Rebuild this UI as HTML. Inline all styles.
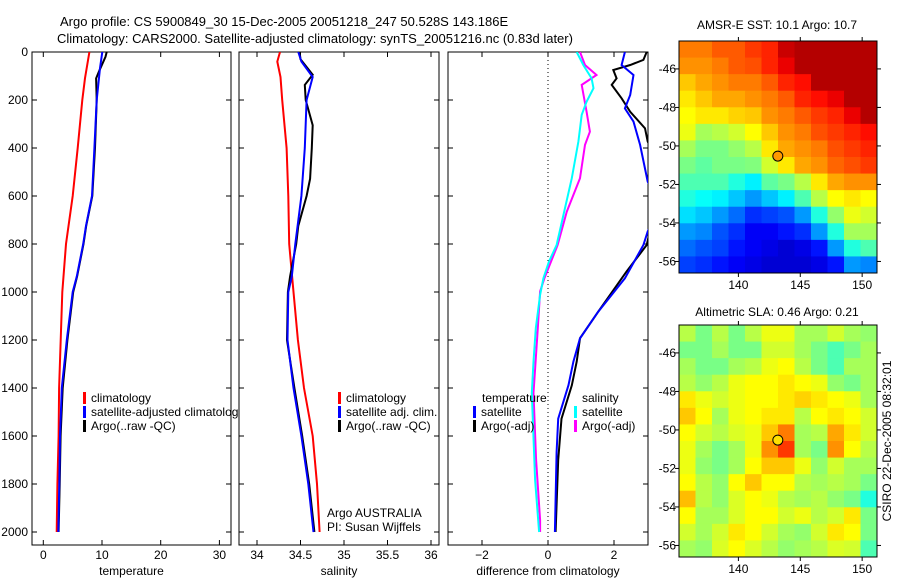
<!DOCTYPE html>
<html><head><meta charset="utf-8"><style>
html,body{margin:0;padding:0;background:#fff;}
svg{display:block;font-family:"Liberation Sans",sans-serif;}
text{font-size:12px;fill:#000;}
</style></head><body>
<svg id="fig" width="900" height="580" viewBox="0 0 900 580" xmlns="http://www.w3.org/2000/svg">
<rect x="0" y="0" width="900" height="580" fill="#fff"/>
<text x="60" y="26" style="font-size:13px">Argo profile: CS 5900849_30 15-Dec-2005 20051218_247 50.528S 143.186E</text>
<text x="57" y="43" style="font-size:13px">Climatology: CARS2000. Satellite-adjusted climatology: synTS_20051216.nc (0.83d later)</text>
<defs>
<clipPath id="c1"><rect x="32" y="52" width="199" height="493"/></clipPath>
<clipPath id="c2"><rect x="239" y="52" width="200" height="493"/></clipPath>
<clipPath id="c3"><rect x="448" y="52" width="200" height="493"/></clipPath>
</defs>
<g id="p1"></g>
<g id="p2"></g>
<g id="p3"></g>
<g id="m1"></g>
<g id="m2"></g>
<text x="777" y="29" text-anchor="middle">AMSR-E SST: 10.1 Argo: 10.7</text>
<text x="777" y="316" text-anchor="middle">Altimetric SLA: 0.46 Argo: 0.21</text>
<text transform="translate(891,441) rotate(-90)" text-anchor="middle">CSIRO 22-Dec-2005 08:32:01</text>
</svg>
<script>
// ---------- data ----------
const depthTicks=[0,200,400,600,800,1000,1200,1400,1600,1800,2000];
const tempTicks=[0,10,20,30];
const salTicks=[34,34.5,35,35.5,36];
const diffTicks=[-2,0,2];
const tClimDepth=[0,109,200,400,600,800,1000,1200,1400,1600,1800,2000];
const tClim=[7.85,7.1,6.65,5.86,5.0,3.87,3.24,2.96,2.7,2.6,2.4,2.28];
const tSatDepth=[0,67,200,400,600,724,800,935,1000,1200,1400,1600,1800,2000];
const tSat=[10.05,9.66,9.1,8.7,8.3,7.27,6.8,5.7,5.0,4.0,3.15,2.85,2.73,2.56];
const tArgoDepth=[0,20,80,110,200,400,600,724,800,935,1000,1200,1400,1600,1800,2000];
const tArgo=[10.8,10.6,9.5,9.0,9.1,8.8,8.35,7.3,6.85,5.75,5.1,4.1,3.3,2.95,2.8,2.6];
const sClimDepth=[0,40,104,200,400,600,800,1000,1200,1400,1600,1800,2000];
const sClim=[34.264,34.233,34.27,34.29,34.34,34.36,34.37,34.42,34.47,34.54,34.64,34.69,34.72];
const sSatDepth=[0,40,104,200,400,600,800,935,1000,1200,1400,1600,1800,2000];
const sSat=[34.475,34.51,34.64,34.57,34.55,34.51,34.44,34.40,34.36,34.35,34.42,34.51,34.59,34.65];
const sArgoDepth=[0,30,95,137,200,305,400,528,600,724,800,935,1000,1200,1400,1600,1800,2000];
const sArgo=[34.49,34.5,34.64,34.55,34.56,34.64,34.63,34.61,34.57,34.475,34.45,34.38,34.355,34.345,34.43,34.52,34.60,34.66];
const dSalSatDepth=[0,54,110,151,207,262,373,526,665,804,873,943,1012,1151,1290,1421,1783,2000];
const dSalSat=[0.87,1.07,1.32,1.38,1.17,1.02,0.92,0.72,0.49,0.26,0.03,-0.14,-0.24,-0.37,-0.44,-0.49,-0.39,-0.27];
const dSalArgoDepth=[0,54,96,137,249,332,387,526,665,804,943,998,1151,1359,1420,1700,1950,2000];
const dSalArgo=[0.97,1.12,1.47,1.02,1.17,1.27,1.12,0.97,0.57,0.29,-0.11,-0.24,-0.31,-0.41,-0.44,-0.36,-0.24,-0.24];
const dTSatDepth=[0,54,96,179,235,290,387,540,640,748,804,943,1082,1193,1290,1388,1528,1667,2000];
const dTSat=[2.33,2.23,2.59,2.49,2.33,2.59,2.79,3.02,3.4,3.02,2.89,2.33,1.52,0.97,0.77,0.62,0.31,0.26,0.21];
const dTArgoDepth=[0,33,54,75,110,137,193,249,318,373,500,804,915,1082,1193,1290,1389,1528,1700,2000];
const dTArgo=[2.99,2.89,2.49,1.98,2.08,1.93,2.23,2.49,2.94,3.02,3.5,2.99,2.38,1.52,0.97,0.87,0.72,0.41,0.31,0.23];
const lonTicks=[140,145,150];
const latTicks=[-46,-48,-50,-52,-54,-56];
const sstGrid=[
[.82,.82,.85,.85,.88,.9,.98,1,1,1,1,1],
[.8,.8,.82,.85,.86,.9,.95,1,1,1,1,1],
[.75,.78,.8,.82,.82,.85,.9,.92,1,1,1,1],
[.72,.75,.78,.78,.8,.82,.85,.9,.92,.95,1,1],
[.7,.72,.72,.74,.75,.8,.82,.85,.88,.9,.95,1],
[.68,.6,.62,.65,.7,.75,.8,.82,.86,.88,.9,.92],
[.6,.55,.55,.58,.62,.72,.78,.8,.82,.86,.88,.9],
[.55,.52,.55,.55,.56,.65,.72,.78,.8,.84,.86,.88],
[.5,.5,.5,.45,.4,.52,.55,.62,.72,.78,.8,.8],
[.45,.42,.4,.35,.3,.35,.4,.5,.62,.7,.72,.7],
[.38,.35,.3,.25,.18,.2,.22,.3,.45,.58,.68,.65],
[.3,.28,.22,.18,.12,.12,.15,.18,.3,.45,.6,.6],
[.25,.22,.2,.15,.12,.1,.08,.1,.15,.3,.45,.5],
[.2,.18,.15,.12,.1,.08,.08,.08,.1,.15,.3,.28]];
const slaGrid=[
[.62,.55,.62,.55,.62,.68,.68,.6,.6,.65,.6,.58],
[.55,.55,.6,.55,.55,.65,.65,.6,.55,.5,.55,.6],
[.6,.55,.55,.6,.62,.68,.7,.62,.55,.5,.6,.6],
[.62,.58,.62,.68,.7,.7,.72,.7,.68,.58,.55,.6],
[.72,.68,.65,.68,.7,.7,.72,.74,.72,.7,.68,.6],
[.75,.7,.6,.68,.7,.72,.72,.62,.7,.72,.7,.65],
[.7,.65,.62,.66,.68,.75,.82,.6,.62,.78,.72,.65],
[.68,.6,.55,.6,.68,.8,.88,.6,.55,.8,.7,.62],
[.68,.58,.55,.6,.7,.75,.75,.68,.58,.65,.6,.6],
[.7,.62,.58,.7,.75,.7,.7,.62,.6,.62,.6,.55],
[.76,.62,.58,.66,.7,.68,.62,.6,.62,.58,.55,.45],
[.7,.6,.6,.66,.7,.7,.65,.68,.62,.65,.72,.55],
[.65,.6,.65,.72,.7,.65,.6,.58,.65,.72,.7,.55],
[.6,.58,.66,.7,.66,.62,.58,.6,.62,.66,.65,.5]];
const floatLon=143.186, floatLat=-50.528;

// ---------- helpers ----------
const NS="http://www.w3.org/2000/svg";
function mk(tag,attrs,parent){const e=document.createElementNS(NS,tag);for(const k in attrs)e.setAttribute(k,attrs[k]);parent.appendChild(e);return e;}
const yTop=52,yBot=545;
const yD=d=>52+0.24*d;
const xT=v=>43.3+5.87*v;
const xS=v=>257+87*(v-34);
const xDf=v=>548+33*v;

function panel(g,x0,x1,ticks,xf,label,title,showY){
  const r=mk('rect',{x:x0,y:yTop,width:x1-x0,height:yBot-yTop,fill:'#fff',stroke:'#000','stroke-width':1},g);
  
  
  depthTicks.forEach(d=>{
    const y=yD(d);
    mk('line',{x1:x0,x2:x0+5,y1:y,y2:y,stroke:'#000'},g);
    mk('line',{x1:x1-5,x2:x1,y1:y,y2:y,stroke:'#000'},g);
    if(showY){const t=mk('text',{x:x0-4,y:y+4,'text-anchor':'end'},g);t.textContent=d;
      
      }
  });
  ticks.forEach(v=>{
    const x=xf(v);
    mk('line',{x1:x,x2:x,y1:yBot,y2:yBot-5,stroke:'#000'},g);
    mk('line',{x1:x,x2:x,y1:yTop,y2:yTop+5,stroke:'#000'},g);
    const t=mk('text',{x:x,y:559,'text-anchor':'middle'},g);t.textContent=label(v);
    
    
  });
  const tt=mk('text',{x:(x0+x1)/2,y:575,'text-anchor':'middle'},g);tt.textContent=title;
  
  
}
function series(g,depths,vals,xf,color,clip,name){
  const pts=depths.map((d,i)=>xf(vals[i]).toFixed(1)+','+yD(d).toFixed(1)).join(' ');
  const p=mk('polyline',{points:pts,fill:'none',stroke:color,'stroke-width':2,'clip-path':'url(#'+clip+')'},g);
  
  
}
function legend(g,x,y,color,label){
  mk('rect',{x:x,y:y-6,width:3,height:12,fill:color},g);
  const t=mk('text',{x:x+8,y:y+4},g);t.textContent=label;
  
  
}

// ---------- panel 1 ----------
const g1=document.getElementById('p1');
panel(g1,32,231,tempTicks,xT,v=>v,'temperature',true);
series(g1,tClimDepth,tClim,xT,'#ff0000','c1','temp-climatology-line');
series(g1,tArgoDepth,tArgo,xT,'#000000','c1','temp-argo-line');
series(g1,tSatDepth,tSat,xT,'#0000ff','c1','temp-satellite-line');
legend(g1,83,398,'#ff0000','climatology');
legend(g1,83,412,'#0000ff','satellite-adjusted climatology');
legend(g1,83,426,'#000000','Argo(..raw -QC)');

// ---------- panel 2 ----------
const g2=document.getElementById('p2');
panel(g2,239,439,salTicks,xS,v=>v,'salinity',false);
series(g2,sClimDepth,sClim,xS,'#ff0000','c2','sal-climatology-line');
series(g2,sArgoDepth,sArgo,xS,'#000000','c2','sal-argo-line');
series(g2,sSatDepth,sSat,xS,'#0000ff','c2','sal-satellite-line');
legend(g2,338,398,'#ff0000','climatology');
legend(g2,338,412,'#0000ff','satellite adj. clim.');
legend(g2,338,426,'#000000','Argo(..raw -QC)');
const a1=mk('text',{x:327,y:517},g2);a1.textContent='Argo AUSTRALIA';


const a2=mk('text',{x:327,y:531},g2);a2.textContent='PI: Susan Wijffels';



// ---------- panel 3 ----------
const g3=document.getElementById('p3');
panel(g3,448,648,diffTicks,xDf,v=>v<0?'\u2212'+(-v):v,'difference from climatology',false);
const zl=mk('line',{x1:xDf(0),x2:xDf(0),y1:yTop,y2:yBot,stroke:'#000','stroke-dasharray':'1,3'},g3);


series(g3,dSalArgoDepth,dSalArgo,xDf,'#ff00ff','c3','sal-diff-argo-line');
series(g3,dSalSatDepth,dSalSat,xDf,'#00ffff','c3','sal-diff-satellite-line');
series(g3,dTArgoDepth,dTArgo,xDf,'#000000','c3','temp-diff-argo-line');
series(g3,dTSatDepth,dTSat,xDf,'#0000ff','c3','temp-diff-satellite-line');
const lt=mk('text',{x:482,y:402},g3);lt.textContent='temperature';


const ls=mk('text',{x:582,y:402},g3);ls.textContent='salinity';


legend(g3,473,412,'#0000ff','satellite');
legend(g3,473,426,'#000000','Argo(-adj)');
legend(g3,574,412,'#00ffff','satellite');
legend(g3,574,426,'#ff00ff','Argo(-adj)');

// ---------- maps ----------
function jet(m){
  let v=m<0.7?0.1+(m-0.1)*0.875:0.625+(m-0.7)*1.08;
  v=Math.max(0,Math.min(1,v));
  const f=t=>Math.max(0,Math.min(1,1.5-Math.abs(4*v-t)));
  const r=f(3),g=f(2),b=f(1);
  return 'rgb('+Math.round(r*255)+','+Math.round(g*255)+','+Math.round(b*255)+')';
}
const lonMin=135.2,lonMax=151.2,latTop=-44.55,latBot=-56.6;
function map(gid,grid,y0,dotColor){
  const g=document.getElementById(gid);
  const x0=679,x1=877,y1=y0+232;
  const lx=l=>x0+(l-lonMin)/(lonMax-lonMin)*(x1-x0);
  const ly=l=>y0+(latTop-l)/(latTop-latBot)*(y1-y0);
  const rows=grid.length,cols=grid[0].length;
  const cw=(x1-x0)/cols,ch=(y1-y0)/rows;
  grid.forEach((row,i)=>row.forEach((v,j)=>{
    const c=mk('rect',{x:(x0+j*cw).toFixed(2),y:(y0+i*ch).toFixed(2),width:(cw+0.5).toFixed(2),height:(ch+0.5).toFixed(2),fill:jet(v)},g);
    
    
  }));
  const fr=mk('rect',{x:x0,y:y0,width:x1-x0,height:y1-y0,fill:'none',stroke:'#000'},g);
  
  
  lonTicks.forEach(l=>{const x=lx(l);
    mk('line',{x1:x,x2:x,y1:y0,y2:y0-4,stroke:'#000'},g);
    mk('line',{x1:x,x2:x,y1:y1,y2:y1+4,stroke:'#000'},g);
    const t=mk('text',{x:x,y:y1+16,'text-anchor':'middle'},g);t.textContent=l;
    
    
  });
  latTicks.forEach(l=>{const y=ly(l);
    mk('line',{x1:x0,x2:x0-4,y1:y,y2:y,stroke:'#000'},g);
    mk('line',{x1:x1,x2:x1+4,y1:y,y2:y,stroke:'#000'},g);
    const t=mk('text',{x:x0-3,y:y+4,'text-anchor':'end'},g);t.textContent='-'+(-l);
    
    
  });
  const d=mk('circle',{cx:lx(floatLon),cy:ly(floatLat),r:5,fill:dotColor,stroke:'#000','stroke-width':1},g);
  
  
}
map('m1',sstGrid,41,'#ff9900');
map('m2',slaGrid,325,'#ffe000');
</script>
</body></html>
